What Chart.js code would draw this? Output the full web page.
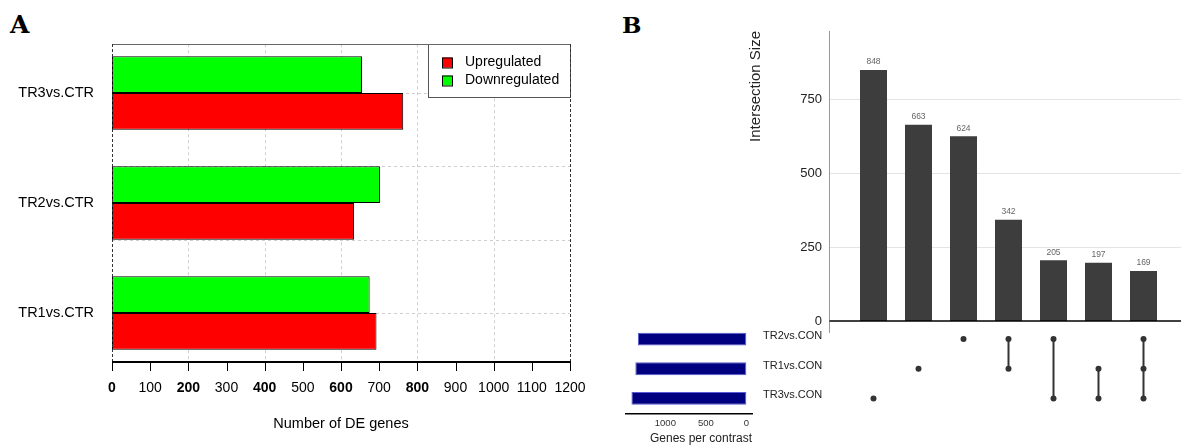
<!DOCTYPE html>
<html>
<head>
<meta charset="utf-8">
<script src="https://cdn.jsdelivr.net/npm/chart.js@4.4.1/dist/chart.umd.min.js"></script>
<style>
  html, body { margin: 0; padding: 0; background: #fff; }
  #fig { position: relative; width: 1181px; height: 446px; overflow: hidden; background: #fff; }
  #fig canvas { position: absolute; }
  .panel { position: absolute; font: bold 23px 'DejaVu Serif', serif; line-height: 23px; color: #000; }
</style>
</head>
<body>
<div id="fig">
  <div class="panel" style="left:10px;top:13px;font-size:25px">A</div>
  <div class="panel" style="left:622px;top:13px">B</div>
  <canvas id="deChart" style="left:0;top:0" width="600" height="446"></canvas>
  <canvas id="sizeChart" style="left:700px;top:0" width="481" height="340"></canvas>
  <canvas id="matrixChart" style="left:700px;top:320px" width="481" height="100"></canvas>
  <canvas id="setChart" style="left:600px;top:320px" width="160" height="126"></canvas>
</div>
<script>
'use strict';

// Panel A - DE genes per contrast (top to bottom)
const contrasts = ['TR3vs.CTR', 'TR2vs.CTR', 'TR1vs.CTR'];
const upregulated = [763, 634, 693];
const downregulated = [655, 702, 675];

// Panel B - upset plot
const setNames = ['TR2vs.CON', 'TR1vs.CON', 'TR3vs.CON'];
const setSizes = [1340, 1371, 1419];
const combos = [
  ['TR3vs.CON'],
  ['TR1vs.CON'],
  ['TR2vs.CON'],
  ['TR2vs.CON', 'TR1vs.CON'],
  ['TR2vs.CON', 'TR3vs.CON'],
  ['TR1vs.CON', 'TR3vs.CON'],
  ['TR2vs.CON', 'TR1vs.CON', 'TR3vs.CON'],
];
const comboSizes = [848, 663, 624, 342, 205, 197, 169];
const sizeTicks = [0, 250, 500, 750];
const setTicks = [0, 500, 1000];

const comboLabels = combos.map(c => c.join(' & '));

Chart.defaults.font.family = "'Liberation Sans', Arial, sans-serif";
Chart.defaults.color = '#000';
Chart.defaults.animation = false;
Chart.defaults.events = [];
Chart.defaults.layout.autoPadding = false;
Chart.defaults.plugins.legend.display = false;
Chart.defaults.plugins.tooltip.enabled = false;

const plainNum = v => String(v);

function strokeLine(ctx, x1, y1, x2, y2) {
  ctx.beginPath(); ctx.moveTo(x1, y1); ctx.lineTo(x2, y2); ctx.stroke();
}

// R-style positions: groups of 2 bars + 1 gap, TR1 centre = 2
function rPos(chart, p) {
  const y = chart.scales.y;
  const unit = (y.getPixelForValue(2) - y.getPixelForValue(1)) / 3;
  return y.getPixelForValue(2) - (p - 2) * unit;
}

const deDecor = {
  id: 'deDecor',
  beforeDatasetsDraw(chart) {
    const { ctx, chartArea: { left, right }, scales: { x } } = chart;
    const top = rPos(chart, 9.33), bottom = rPos(chart, 0.67);
    ctx.save();
    ctx.strokeStyle = '#cfcfcf'; ctx.lineWidth = 1; ctx.setLineDash([3, 3]);
    x.ticks.forEach(t => {
      if (t.value % 200 || t.value === 0 || t.value === 1200) return;
      const px = Math.round(x.getPixelForValue(t.value)) + 0.5;
      strokeLine(ctx, px, top, px, bottom);
    });
    [2, 4, 6, 8].forEach(p => {
      const py = Math.round(rPos(chart, p)) + 0.5;
      strokeLine(ctx, left, py, right, py);
    });
    ctx.restore();
  },
  afterDatasetsDraw(chart) {
    // legend box, top right of the frame
    const { ctx, chartArea: { right } } = chart;
    const top = Math.round(rPos(chart, 9.33));
    const items = chart.data.datasets.slice().reverse();
    ctx.save();
    ctx.fillStyle = '#fff';
    ctx.fillRect(428, top, right - 428, 53);
    ctx.strokeStyle = '#555'; ctx.lineWidth = 1;
    ctx.strokeRect(428.5, top + 0.5, right - 428, 53);
    ctx.font = "14px 'Liberation Sans', Arial, sans-serif";
    ctx.textBaseline = 'middle';
    items.forEach((d, i) => {
      const cy = top + 18.5 + i * 18;
      ctx.fillStyle = d.backgroundColor;
      ctx.fillRect(442, cy - 5, 10, 10);
      ctx.strokeStyle = '#000';
      ctx.strokeRect(442.5, cy - 4.5, 10, 10);
      ctx.fillStyle = '#000';
      ctx.fillText(d.label, 465, cy);
    });
    ctx.restore();
  },
  afterDraw(chart) {
    const { ctx, chartArea: { left, right }, scales: { x } } = chart;
    const top = Math.round(rPos(chart, 9.33)), bottom = Math.round(rPos(chart, 0.67));
    ctx.save();
    ctx.strokeStyle = '#666'; ctx.lineWidth = 1;
    strokeLine(ctx, left, top + 0.5, right, top + 0.5);
    ctx.strokeStyle = '#333'; ctx.setLineDash([3, 2]);
    [left, right].forEach(px => {
      const rx = Math.round(px) + 0.5;
      strokeLine(ctx, rx, top, rx, bottom);
    });
    ctx.setLineDash([]);
    ctx.strokeStyle = '#000'; ctx.lineWidth = 2;
    strokeLine(ctx, left, bottom, right + 1, bottom);
    ctx.lineWidth = 1;
    x.ticks.forEach(t => {
      const px = Math.round(x.getPixelForValue(t.value)) + 0.5;
      strokeLine(ctx, px, bottom, px, bottom + 9);
    });
    ctx.restore();
  },
};

new Chart(document.getElementById('deChart'), {
  type: 'bar',
  data: {
    labels: contrasts,
    datasets: [
      { label: 'Downregulated', data: downregulated, backgroundColor: '#00ff00' },
      { label: 'Upregulated', data: upregulated, backgroundColor: '#ff0000' },
    ],
  },
  options: {
    responsive: false,
    indexAxis: 'y',
    layout: { padding: { top: 38, right: 30, bottom: 0, left: 0 } },
    datasets: {
      bar: { borderColor: '#000', borderWidth: 1, borderSkipped: false, categoryPercentage: 0.667, barPercentage: 1 },
    },
    scales: {
      x: {
        min: 0, max: 1200,
        grid: { display: false, drawTicks: false },
        border: { display: false },
        ticks: {
          stepSize: 100, padding: 12, color: '#000', maxRotation: 0, callback: plainNum,
          font: c => ({ size: 14, weight: c.tick && c.tick.value % 200 === 0 && c.tick.value <= 800 ? 'bold' : 'normal' }),
        },
        title: { display: true, text: 'Number of DE genes', color: '#000', font: { size: 14.5 }, padding: { top: 0, bottom: 13 } },
        afterFit: s => { s.height = 78; },
      },
      y: {
        grid: { display: false, drawTicks: false },
        border: { display: false },
        ticks: { padding: 18, color: '#000', font: { size: 14.5 } },
        afterFit: s => { s.width = 112; s.paddingTop = 0; s.paddingBottom = 0; },
      },
    },
  },
  plugins: [deDecor],
});

// Intersection size bars
const sizeDecor = {
  id: 'sizeDecor',
  beforeDatasetsDraw(chart) {
    const { ctx, chartArea: { left }, scales: { y } } = chart;
    const axisX = left - 22;
    ctx.save();
    ctx.strokeStyle = '#e4e4e4'; ctx.lineWidth = 1;
    sizeTicks.forEach(v => {
      if (!v) return;
      const py = Math.round(y.getPixelForValue(v)) + 0.5;
      strokeLine(ctx, axisX, py, chart.width, py);
    });
    ctx.restore();
  },
  afterDatasetsDraw(chart) {
    const { ctx, chartArea: { left, top }, scales: { y } } = chart;
    const axisX = Math.round(left - 22) + 0.5;
    const zero = y.getPixelForValue(0);
    ctx.save();
    ctx.strokeStyle = '#999'; ctx.lineWidth = 1;
    strokeLine(ctx, axisX, top, axisX, zero + 12);
    ctx.strokeStyle = '#000'; ctx.lineWidth = 1.5;
    strokeLine(ctx, axisX, zero, chart.width, zero);
    ctx.fillStyle = '#666';
    ctx.font = "8.5px 'Liberation Sans', Arial, sans-serif";
    ctx.textAlign = 'center'; ctx.textBaseline = 'middle';
    chart.getDatasetMeta(0).data.forEach((bar, i) => {
      ctx.fillText(String(chart.data.datasets[0].data[i]), bar.x, bar.y - 8);
    });
    ctx.restore();
  },
};

new Chart(document.getElementById('sizeChart'), {
  type: 'bar',
  data: {
    labels: comboLabels,
    datasets: [{ data: comboSizes, backgroundColor: '#3d3d3d', categoryPercentage: 1, barPercentage: 0.6 }],
  },
  options: {
    responsive: false,
    layout: { padding: { top: 31, right: 15, bottom: 19, left: 0 } },
    scales: {
      x: { display: false },
      y: {
        min: 0, max: 980,
        grid: { display: false, drawTicks: false },
        border: { display: false },
        afterBuildTicks: s => { s.ticks = sizeTicks.map(v => ({ value: v })); },
        ticks: { padding: 29, color: '#222', font: { size: 13 }, callback: plainNum },
        title: { display: true, text: 'Intersection Size', align: 'end', color: '#222', font: { size: 15 }, padding: { top: 47, bottom: 0 } },
        afterFit: s => { s.width = 151; s.paddingTop = 0; s.paddingBottom = 0; },
      },
    },
  },
  plugins: [sizeDecor],
});

// Membership matrix
new Chart(document.getElementById('matrixChart'), {
  type: 'line',
  data: {
    labels: comboLabels,
    datasets: combos.map((c, i) => ({
      data: c.map(s => ({ x: comboLabels[i], y: s })),
      borderColor: '#333', backgroundColor: '#333',
      borderWidth: 2, pointRadius: 3, pointBorderWidth: 0,
    })),
  },
  options: {
    responsive: false,
    layout: { padding: { top: 4.2, right: 15, bottom: 6.7, left: 63 } },
    scales: {
      x: { type: 'category', offset: true, display: false },
      y: {
        type: 'category', labels: setNames, offset: true,
        grid: { display: false, drawTicks: false },
        border: { display: false },
        ticks: { crossAlign: 'far', labelOffset: -3, padding: 0, color: '#222', font: { size: 11 } },
        afterFit: s => { s.width = 88; s.paddingTop = 0; s.paddingBottom = 0; },
      },
    },
  },
});

// Set sizes (reversed axis)
const setTitle = {
  id: 'setTitle',
  afterDraw(chart) {
    const { ctx, chartArea: { right } } = chart;
    ctx.save();
    ctx.fillStyle = '#222';
    ctx.font = "12px 'Liberation Sans', Arial, sans-serif";
    ctx.textAlign = 'right'; ctx.textBaseline = 'middle';
    ctx.fillText('Genes per contrast', right, 119);
    ctx.restore();
  },
};

new Chart(document.getElementById('setChart'), {
  type: 'bar',
  data: {
    labels: setNames,
    datasets: [{
      data: setSizes, backgroundColor: '#000080', borderColor: '#5a5ad6', borderWidth: 1,
      borderSkipped: false, barPercentage: 0.43, categoryPercentage: 1,
    }],
  },
  options: {
    responsive: false,
    indexAxis: 'y',
    layout: { padding: { top: 4.2, right: 8, bottom: 0, left: 25.7 } },
    scales: {
      x: {
        reverse: true, min: -70, max: 1490,
        grid: { display: false, drawTicks: false },
        border: { display: true, color: '#000', width: 1.5 },
        afterBuildTicks: s => { s.ticks = setTicks.map(v => ({ value: v })); },
        ticks: { padding: 4, color: '#333', maxRotation: 0, font: { size: 9.5 }, callback: plainNum },
        afterFit: s => { s.height = 32.7; },
      },
      y: { display: false },
    },
  },
  plugins: [setTitle],
});
</script>
</body>
</html>
